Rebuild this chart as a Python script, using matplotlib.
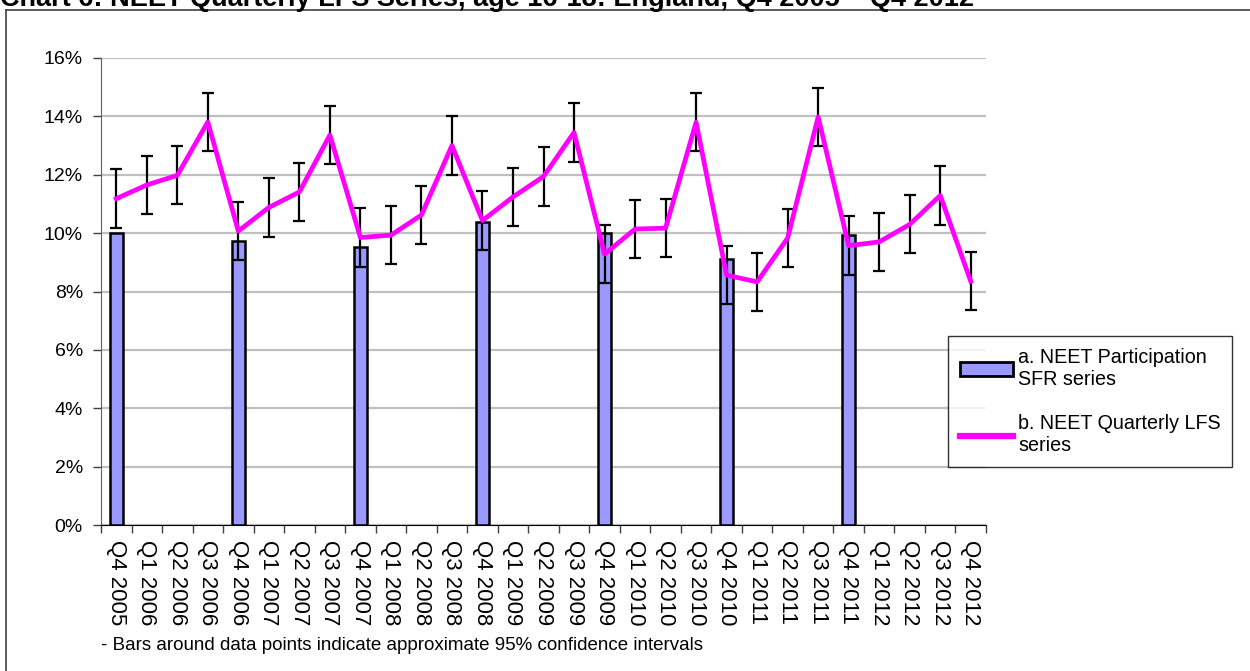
import numpy as np
import matplotlib
matplotlib.use("Agg")
import matplotlib.pyplot as plt
from matplotlib.patches import Patch
from matplotlib.lines import Line2D
from matplotlib.ticker import FuncFormatter, FixedLocator

plt.rcParams['font.family'] = ['Liberation Sans', 'DejaVu Sans']

quarters = ["Q4 2005", "Q1 2006", "Q2 2006", "Q3 2006", "Q4 2006", "Q1 2007", "Q2 2007", "Q3 2007",
            "Q4 2007", "Q1 2008", "Q2 2008", "Q3 2008", "Q4 2008", "Q1 2009", "Q2 2009", "Q3 2009",
            "Q4 2009", "Q1 2010", "Q2 2010", "Q3 2010", "Q4 2010", "Q1 2011", "Q2 2011", "Q3 2011",
            "Q4 2011", "Q1 2012", "Q2 2012", "Q3 2012", "Q4 2012"]

# LFS quarterly series (%)
lfs = [11.18, 11.65, 11.98, 13.81, 10.07, 10.88, 11.41, 13.36,
       9.85, 9.93, 10.62, 13.00, 10.43, 11.24, 11.94, 13.45,
       9.28, 10.14, 10.17, 13.80, 8.56, 8.33, 9.83, 13.98,
       9.57, 9.70, 10.30, 11.29, 8.35]

# approx 95% CI half widths
lfs_ci = [1.00, 1.00, 0.99, 1.00, 0.98, 1.01, 1.00, 0.99,
          1.00, 1.00, 0.99, 1.00, 1.00, 1.00, 1.00, 1.00,
          1.00, 0.99, 1.00, 1.00, 1.00, 1.00, 1.00, 1.00,
          1.00, 0.99, 0.99, 1.00, 0.99]

# SFR series only for Q4 each year
sfr = [10.01, np.nan, np.nan, np.nan, 9.73, np.nan, np.nan, np.nan,
       9.52, np.nan, np.nan, np.nan, 10.39, np.nan, np.nan, np.nan,
       10.01, np.nan, np.nan, np.nan, 9.10, np.nan, np.nan, np.nan,
       9.93, np.nan, np.nan, np.nan, np.nan]

W, H = 1250, 671
fig = plt.figure(figsize=(W / 100, H / 100), dpi=100)
ax = fig.add_axes([101 / W, 1 - 525 / H, 885 / W, 467 / H])

x = np.arange(len(quarters))
ax.bar(x, sfr, width=0.43, color='#9999FF', edgecolor='black', linewidth=1.8, zorder=2)
ax.errorbar(x, lfs, yerr=lfs_ci, fmt='none', ecolor='black', elinewidth=1.6,
            capsize=4, capthick=1.6, zorder=3)
ax.plot(x, lfs, color='#FF00FF', linewidth=3.4, zorder=4)

ax.set_xlim(-0.5, len(quarters) - 0.5)
ax.set_ylim(0, 16)
ax.set_yticks(np.arange(0, 17, 2))
ax.yaxis.set_major_formatter(FuncFormatter(lambda v, p: f"{v:.0f}%"))
ax.grid(axis='y', color='#c0c0c0', linewidth=1.6, zorder=0)
ax.set_axisbelow(True)

ax.set_xticks(x)
ax.set_xticklabels(quarters, rotation=270, fontsize=16, va='top', ha='center')
ax.xaxis.set_minor_locator(FixedLocator(np.arange(-0.5, len(quarters), 1.0)))
ax.tick_params(axis='x', which='major', length=0, pad=11)
ax.tick_params(axis='x', which='minor', length=6, width=1, color='#404040')
ax.tick_params(axis='y', length=6, width=1, color='#404040', labelsize=14, pad=7)

for s in ['top', 'right']:
    ax.spines[s].set_visible(False)
ax.spines['left'].set_color('#606060')
ax.spines['bottom'].set_color('black')

handles = [Patch(facecolor='#9999FF', edgecolor='black', linewidth=2),
           Line2D([], [], color='#FF00FF', linewidth=4.5)]
labels = ["a. NEET Participation\nSFR series", "b. NEET Quarterly LFS\nseries"]
leg = fig.legend(handles, labels, loc='upper left', bbox_to_anchor=(948 / W, 1 - 336 / H),
                 fontsize=14.2, frameon=True, fancybox=False, edgecolor='black',
                 handlelength=2.7, handletextpad=0.25, labelspacing=1.3, borderpad=0.6,
                 borderaxespad=0)
leg.get_frame().set_linewidth(1)

fig.text(101 / W, 1 - 650 / H, "- Bars around data points indicate approximate 95% confidence intervals",
         fontsize=13.5, ha='left', va='baseline')

fig.text(0, 1 - 6 / H, "Chart 6: NEET Quarterly LFS Series, age 16-18: England, Q4 2005 \u2013 Q4 2012",
         fontsize=19.5, fontweight='bold', ha='left', va='baseline')

# outer chart border (top and left edges)
fig.add_artist(Line2D([6 / W, 6 / W], [0, 1 - 10 / H], transform=fig.transFigure,
                      color='#404040', linewidth=1.2))
fig.add_artist(Line2D([6 / W, 1], [1 - 10 / H, 1 - 10 / H], transform=fig.transFigure,
                      color='#404040', linewidth=1.2))

fig.savefig("out.png", dpi=100)
